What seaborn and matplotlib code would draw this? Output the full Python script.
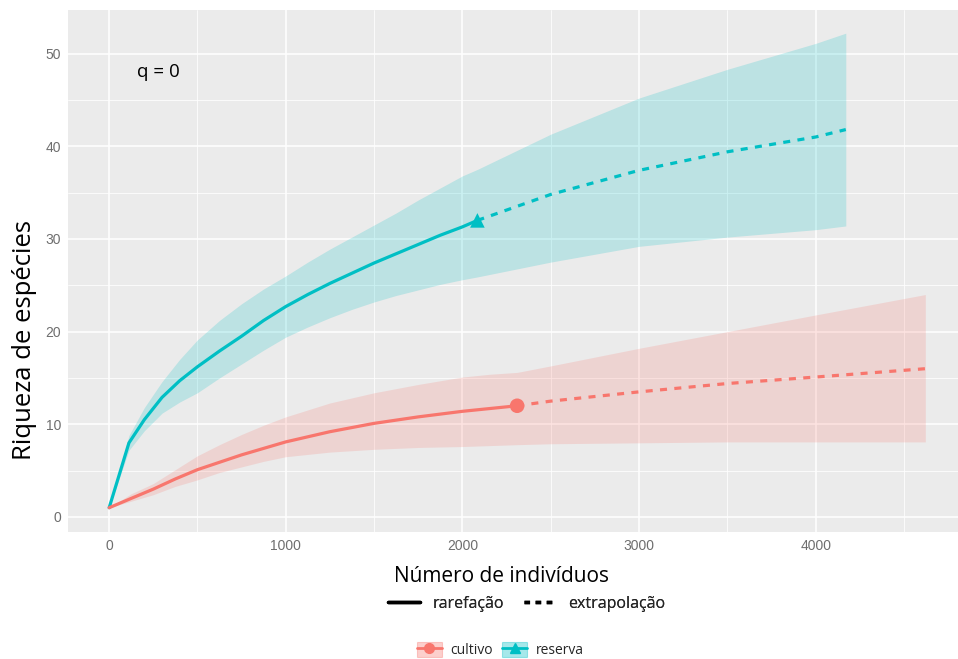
import numpy as np
import pandas as pd
import matplotlib
matplotlib.use("Agg")
import matplotlib.pyplot as plt
import seaborn as sns
from matplotlib.lines import Line2D
from matplotlib.patches import Patch

# ---------------- data ----------------
sites = ["cultivo", "reserva"]
colors = {"cultivo": "#F8766D", "reserva": "#00BFC4"}

# reserva: rarefaction
res_rar_n = [1, 113, 200, 300, 400, 500, 625, 750, 875, 1000, 1125, 1250, 1375, 1500,
             1625, 1750, 1875, 2000, 2085]
res_rar_S = [1, 8.0, 10.5, 12.9, 14.7, 16.2, 17.9, 19.5, 21.2, 22.7, 24.0, 25.2, 26.3, 27.4,
             28.4, 29.4, 30.4, 31.3, 32.0]
res_rar_lo = [1, 7.2, 9.3, 11.2, 12.4, 13.4, 15.0, 16.5, 18.0, 19.4, 20.5, 21.5, 22.4, 23.2,
              23.9, 24.5, 25.1, 25.6, 25.9]
res_rar_hi = [1, 8.8, 11.8, 14.6, 17.0, 19.1, 21.2, 23.0, 24.6, 26.0, 27.5, 28.9, 30.2, 31.5,
              32.8, 34.2, 35.5, 36.8, 37.5]
# reserva: extrapolation
res_ext_n = [2085, 2500, 3000, 3500, 4000, 4170]
res_ext_S = [32.0, 34.8, 37.4, 39.4, 41.0, 41.8]
res_ext_lo = [25.9, 27.5, 29.2, 30.2, 31.0, 31.4]
res_ext_hi = [37.5, 41.3, 45.2, 48.3, 51.1, 52.2]

# cultivo: rarefaction
cul_rar_n = [1, 125, 250, 375, 500, 625, 750, 875, 1000, 1250, 1500, 1750, 2000, 2155, 2310]
cul_rar_S = [1, 2.0, 3.0, 4.1, 5.1, 5.9, 6.7, 7.4, 8.1, 9.2, 10.1, 10.8, 11.4, 11.7, 12.0]
cul_rar_lo = [1, 1.7, 2.4, 3.3, 4.0, 4.8, 5.4, 6.0, 6.5, 7.0, 7.3, 7.5, 7.6, 7.7, 7.8]
cul_rar_hi = [1, 2.5, 3.6, 5.1, 6.6, 7.8, 8.9, 9.9, 10.8, 12.3, 13.4, 14.3, 15.1, 15.4, 15.6]
# cultivo: extrapolation
cul_ext_n = [2310, 2500, 3000, 3500, 4000, 4620]
cul_ext_S = [12.0, 12.5, 13.5, 14.4, 15.1, 16.0]
cul_ext_lo = [7.8, 7.9, 8.0, 8.1, 8.1, 8.1]
cul_ext_hi = [15.6, 16.3, 18.2, 20.0, 21.8, 24.0]

obs_n = [2310, 2085]
obs_S = [12.0, 32.0]

method_labels = ["rarefação", "extrapolação"]
x_ticks = [0, 1000, 2000, 3000, 4000]
y_ticks = [0, 10, 20, 30, 40, 50]

# ---------------- tables ----------------
rows = []
for site, segs in [
    ("reserva", [("rarefação", res_rar_n, res_rar_S), ("extrapolação", res_ext_n, res_ext_S)]),
    ("cultivo", [("rarefação", cul_rar_n, cul_rar_S), ("extrapolação", cul_ext_n, cul_ext_S)]),
]:
    for method, ns, ss in segs:
        for n, s in zip(ns, ss):
            rows.append({"site": site, "method": method, "n": n, "S": s})
lines_df = pd.DataFrame(rows)
obs_df = pd.DataFrame({"site": sites, "n": obs_n, "S": obs_S})

bands = {
    "cultivo": (cul_rar_n + cul_ext_n[1:], cul_rar_lo + cul_ext_lo[1:], cul_rar_hi + cul_ext_hi[1:]),
    "reserva": (res_rar_n + res_ext_n[1:], res_rar_lo + res_ext_lo[1:], res_rar_hi + res_ext_hi[1:]),
}

# ---------------- figure ----------------
sns.set_theme(style="darkgrid", rc={
    "axes.facecolor": "#EBEBEB",
    "grid.color": "white",
    "figure.facecolor": "white",
})
plt.rcParams["font.family"] = ["DejaVu Sans"]

W, H = 958, 659
fig = plt.figure(figsize=(W / 100, H / 100), dpi=100)
ax = fig.add_axes([68 / W, 1 - 532 / H, (958 - 68) / W, (532 - 10) / H])

for site in sites:
    ns, lo, hi = bands[site]
    ax.fill_between(ns, lo, hi, color=colors[site], alpha=0.2, linewidth=0, zorder=2)

sns.lineplot(data=lines_df, x="n", y="S", hue="site", style="method",
             palette=colors, dashes={"rarefação": "", "extrapolação": (2.2, 2.3)},
             estimator=None, sort=False, linewidth=2.3, legend=False, ax=ax, zorder=3)

sns.scatterplot(data=obs_df, x="n", y="S", hue="site", style="site",
                palette=colors, markers={"cultivo": "o", "reserva": "^"},
                s=110, edgecolor="none", legend=False, ax=ax, zorder=4)

ax.set_xlim(-232, 4805)
ax.set_ylim(-1.62, 54.7)
ax.set_xticks(x_ticks)
ax.set_xticklabels([str(t) for t in x_ticks])
ax.set_yticks(y_ticks)
ax.set_yticklabels([str(t) for t in y_ticks])
ax.set_xticks([500, 1500, 2500, 3500, 4500], minor=True)
ax.set_yticks([5, 15, 25, 35, 45], minor=True)
ax.grid(which="major", color="white", linewidth=1.1)
ax.grid(which="minor", color="white", linewidth=0.55)
for sp in ax.spines.values():
    sp.set_visible(False)
ax.tick_params(axis="both", which="major", length=3, width=0.8, color="#555555",
               labelcolor="#6E6E6E", labelsize=10, pad=2)
ax.tick_params(axis="both", which="minor", length=0)
for lab in ax.get_xticklabels() + ax.get_yticklabels():
    lab.set_family(["Liberation Sans", "DejaVu Sans"])
ax.set_xlabel("")
ax.set_ylabel("")

fig.text(158 / W, 1 - 72 / H, "q = 0", fontsize=13.5, family=["Open Sans", "DejaVu Sans"],
         ha="center", va="center", color="black")

fig.text(25 / W, 1 - 340 / H, "Riqueza de espécies", rotation=90, ha="center", va="center",
         fontsize=18.5, family=["Open Sans", "DejaVu Sans"], color="black")
fig.text(501 / W, 1 - 577 / H, "Número de indivíduos", ha="center", va="center",
         fontsize=15, family=["Open Sans", "DejaVu Sans"], color="black")

# linetype legend
lt_handles = [Line2D([], [], color="black", linewidth=2.5),
              Line2D([], [], color="black", linewidth=2.5, dashes=(1.6, 1.6))]
leg1 = fig.legend(lt_handles, method_labels, ncol=2, frameon=False,
                  loc="center", bbox_to_anchor=(527 / W, 1 - 604 / H),
                  prop={"family": ["Open Sans", "DejaVu Sans"], "size": 11.5},
                  handlelength=2.0, columnspacing=1.2, handletextpad=0.8)

# colour legend
col_handles = []
for site, mk in zip(sites, ["o", "^"]):
    col_handles.append((Patch(facecolor=colors[site], alpha=0.35, edgecolor=colors[site], linewidth=0.8),
                        Line2D([], [], color=colors[site], linewidth=2, marker=mk, markersize=7)))
leg2 = fig.legend(col_handles, sites, ncol=2, frameon=False,
                  loc="center", bbox_to_anchor=(500 / W, 1 - 650 / H),
                  prop={"family": ["Open Sans", "DejaVu Sans"], "size": 10},
                  handlelength=1.8, handleheight=1.3, columnspacing=0.7, handletextpad=0.6)
fig.add_artist(leg1)

fig.savefig("out.png", dpi=100)
